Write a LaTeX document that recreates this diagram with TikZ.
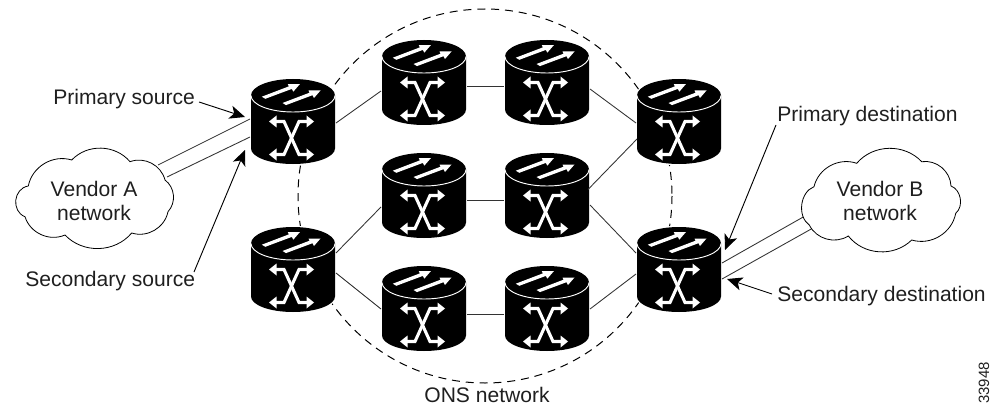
\documentclass[tikz,border=0pt]{standalone}
\usepackage{fontspec}
\setmainfont{Liberation Sans}
\usetikzlibrary{arrows.meta,calc}
\tikzset{
  routerbox/.style={minimum width=63pt,minimum height=63.75pt,inner sep=0pt,draw=none},
  link/.style={line width=.65pt,draw=black!80},
  ring/.style={line width=.75pt,dash pattern=on 6pt off 4.4pt,draw=black},
  pointer/.style={line width=.7pt,draw=black,-{Stealth[length=11.5pt,width=10pt,inset=3pt]}},
  label/.style={font=\fontsize{15.8}{18}\selectfont,text=black!88,anchor=base west,inner sep=0pt},
  cloudtext/.style={font=\fontsize{15.8}{17.6}\selectfont,text=black!88,align=center,inner sep=0pt},
  cloudline/.style={line width=.6pt,draw=black,fill=white},
  lobe/.style={bend left=48,looseness=1},
  biglobe/.style={bend left=75,looseness=1.25}
}
\newcommand{\rtr}[3]{%
  \node[routerbox] (#1) at (#2,#3) {};
  \begin{scope}[shift={(#2,#3)}]
    \fill[black,draw=white,line width=1.8pt] (-42,-26) arc[start angle=180,end angle=360,x radius=42,y radius=16.5]
       -- (42,27) arc[start angle=0,end angle=180,x radius=42,y radius=15.5] -- cycle;
    \fill[black] (-42,-26) arc[start angle=180,end angle=360,x radius=42,y radius=16.5]
       -- (42,27) arc[start angle=0,end angle=180,x radius=42,y radius=15.5] -- cycle;
    \draw[white,line width=.7pt] (-42,-26) arc[start angle=180,end angle=0,x radius=42,y radius=16.5];
    \foreach \tx/\ty in {6.8/-37.3,27.5/-31}{
      \fill[white,shift={(\tx,\ty)}] (-38,12.5) -- (-11,2.2) -- (-12,0) -- (0,0) -- (-6.5,7.5) -- (-8,4.7) -- (-34.5,14.6) -- cycle;
    }
    \draw[white,line width=2.3pt,miter limit=10] (-18,0) -- (-9,0) -- (6,33) -- (16,33);
    \draw[white,line width=2.3pt,miter limit=10] (16,0) -- (6,0) -- (-9,33) -- (-18,33);
    \foreach \py in {0,33}{
      \fill[white] (-24,\py) -- (-16.5,\py-6) -- (-16.5,\py+6) -- cycle;
      \fill[white] (21,\py) -- (13.5,\py-6) -- (13.5,\py+6) -- cycle;
    }
  \end{scope}}
\begin{document}
\begin{tikzpicture}[x=.75pt,y=-.75pt]
\useasboundingbox (0,0) rectangle (991,406);
\coordinate (ringc) at (485,196);
\draw[ring] (ringc) circle[radius=187];
\rtr{a1}{293}{121.5}
\rtr{a2}{293}{269.5}
\rtr{b1}{424}{82.5}
\rtr{b2}{424}{195.5}
\rtr{b3}{424}{308.5}
\rtr{c1}{547}{82.5}
\rtr{c2}{547}{195.5}
\rtr{c3}{547}{308.5}
\rtr{d1}{679}{121.5}
\rtr{d2}{679}{269.5}
% links
\draw[link] ($(a1)+(43,1.5)$) -- ($(b1)+(-43,8.5)$);
\draw[link] ($(a2)+(43,-16.5)$) -- ($(b2)+(-43,11.5)$);
\draw[link] ($(a2)+(43,3.5)$) -- ($(b3)+(-43,0.5)$);
\draw[link] ($(b1)+(43,3.5)$) -- ($(c1)+(-43,3.5)$);
\draw[link] ($(b2)+(43,4.5)$) -- ($(c2)+(-43,4.5)$);
\draw[link] ($(b3)+(43,5.5)$) -- ($(c3)+(-43,5.5)$);
\draw[link] ($(c1)+(43,6.5)$) -- ($(d1)+(-43,1.5)$);
\draw[link] ($(c2)+(41,-6)$) -- ($(d1)+(-42,17.5)$);
\draw[link] ($(c2)+(43,9.5)$) -- ($(d2)+(-43,-16.5)$);
\draw[link] ($(c3)+(43,0.5)$) -- ($(d2)+(-43,4.5)$);
% vendor links
\coordinate (ca1) at (158,165);
\coordinate (ca2) at (167,177);
\coordinate (cb1) at (805,216);
\coordinate (cb2) at (813,228);
\draw[link] (ca1) -- ($(a1)+(-43,-2.5)$);
\draw[link] (ca2) -- ($(a1)+(-43,15.5)$);
\draw[link] (cb1) -- ($(d2)+(43,-6.5)$);
\draw[link] (cb2) -- ($(d2)+(43,9.5)$);
% clouds
\draw[cloudline] (28.3,186) to[lobe] (71.7,160) to[lobe] (130,161.7) to[lobe] (165,180) to[lobe] (168,211.7)
   to[lobe] (131.7,233) to[lobe] (65,235) to[lobe] (25,216.7) to[biglobe] (28.3,186) -- cycle;
\draw[cloudline] (814,186.7) to[lobe] (856.7,163.3) to[lobe] (921.7,161.7) to[lobe] (951,186) to[lobe,bend left=60] (955.7,213.3)
   to[lobe] (911.7,240) to[lobe] (848.3,236) to[lobe] (809.3,225) to[lobe,bend left=62] (814,186.7) -- cycle;
\node[cloudtext] (vA) at (94,201) {Vendor A\\network};
\node[cloudtext] (vB) at (880,201) {Vendor B\\network};
% labels
\node[label] (ps) at (53,105) {Primary source};
\node[label] (ss) at (25,286) {Secondary source};
\node[label] (pd) at (777,121.7) {Primary destination};
\node[label] (sd) at (777,301.7) {Secondary destination};
\node[label,anchor=base] (ons) at (487,402) {ONS network};
\node[label,font=\fontsize{11.2}{13}\selectfont,rotate=90] (id) at (989,404) {33948};
\coordinate (psS) at (199,102);
\coordinate (ssS) at (194,272);
\coordinate (pdS) at (776,125);
\coordinate (sdS) at (772,294);
\draw[pointer] (psS) -- ($(a1)+(-48,-4.5)$);
\draw[pointer] (ssS) -- ($(a1)+(-48,28.5)$);
\draw[pointer] (pdS) -- ($(d2)+(46,-19.5)$);
\draw[pointer] (sdS) -- ($(d2)+(48,9.5)$);
\end{tikzpicture}
\end{document}
